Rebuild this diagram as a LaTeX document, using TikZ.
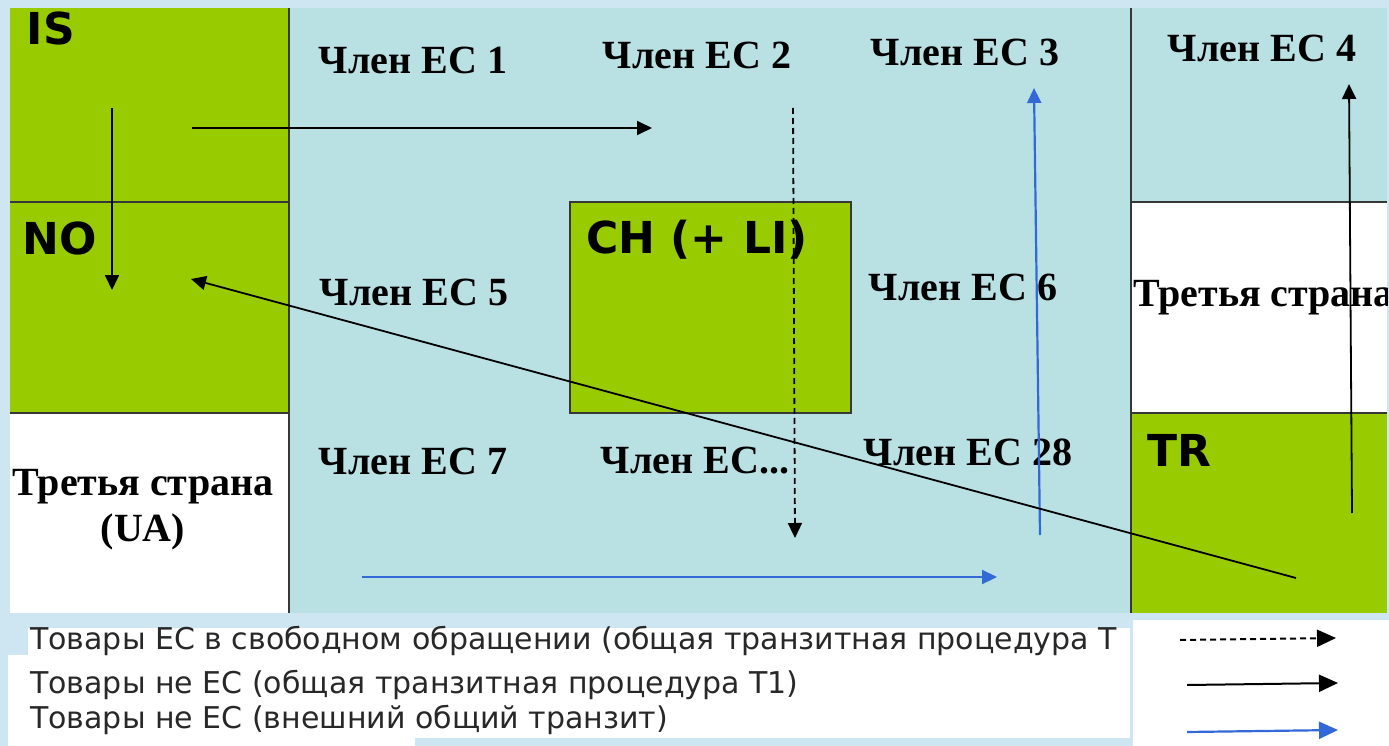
\documentclass[tikz,border=0pt]{standalone}
\usepackage{fontspec}
\setmainfont{Liberation Serif}
\newfontfamily\labelfont{DejaVu Sans}
\newfontfamily\legendfont{DejaVu Sans}
\usetikzlibrary{arrows.meta}
\definecolor{skyback}{RGB}{206,230,241}
\definecolor{euteal}{RGB}{185,224,227}
\definecolor{eftagreen}{RGB}{153,204,0}
\definecolor{extblue}{RGB}{50,105,215}
\definecolor{cellline}{RGB}{55,55,55}
\definecolor{legendtext}{RGB}{40,40,40}
\tikzset{
  member/.style={font=\fontsize{40}{46}\selectfont\bfseries, inner sep=0pt},
  country/.style={font=\labelfont\fontsize{44}{50}\selectfont\bfseries, inner sep=0pt},
  legend/.style={font=\legendfont\fontsize{30}{36}\selectfont, text=legendtext, anchor=west, inner sep=0pt},
  cell/.style={draw=cellline, line width=1.2pt},
  tip/.style={-{Triangle[length=15pt,width=14pt]}, line width=1.8pt},
  keytip/.style={-{Triangle[length=19pt,width=17pt]}, line width=2pt},
  freeflow/.style={dash pattern=on 6pt off 4pt},
  extflow/.style={extblue, line width=2.2pt}
}
\begin{document}
\begin{tikzpicture}[x=1pt,y=-1pt]
\useasboundingbox (0,0) rectangle (1389,746);
% background and cells
\fill[skyback] (0,0) rectangle (1389,746);
\fill[euteal] (289,8) rectangle (1131,613);
\fill[euteal] (1131,8) rectangle (1387,202);
\fill[white] (1131,202) rectangle (1387,413);
\fill[eftagreen] (1131,413) rectangle (1387,613);
\fill[eftagreen] (10,8) rectangle (289,413);
\fill[white] (10,413) rectangle (289,613);
\fill[eftagreen, cell] (570,202) rectangle (851,413);
\draw[cell] (289,8) -- (289,613);
\draw[cell] (1131,8) -- (1131,613);
\draw[cell] (10,202) -- (289,202);
\draw[cell] (10,413) -- (289,413);
\draw[cell] (1131,202) -- (1387,202);
\draw[cell] (1131,413) -- (1387,413);
% legend area
\fill[white] (28,628) rectangle (1130,738);
\fill[white] (8,655) rectangle (415,746);
\fill[white] (1133,620) rectangle (1389,746);

% labels
\node[country] (is) at (51,28) {IS};
\node[country] (no) at (60,238) {NO};
\node[country] (ch) at (697,240) {CH (+ LI)};
\node[country] (tr) at (1179,450) {TR};
\node[member] (m1) at (413,60) {Член ЕС 1};
\node[member] (m2) at (697,55) {Член ЕС 2};
\node[member] (m3) at (965,52) {Член ЕС 3};
\node[member] (m4) at (1262,48) {Член ЕС 4};
\node[member] (m5) at (414,292) {Член ЕС 5};
\node[member] (m6) at (963,287) {Член ЕС 6};
\node[member] (m7) at (413,461) {Член ЕС 7};
\node[member] (mx) at (695,461) {Член ЕС...};
\node[member] (m28) at (968,452) {Член ЕС 28};
\node[member, align=center] (ua) at (143,510) {Третья страна\\(UA)};
\begin{scope}
\clip (1131,202) rectangle (1387,413);
\node[member, anchor=west] (third) at (1133,298) {Третья страна};
\end{scope}

% flows
\coordinate (isdown) at (112,108);
\coordinate (noin) at (112,290);
\coordinate (iseast) at (192,128);
\coordinate (m2in) at (652,128);
\coordinate (m2out) at (793,108);
\coordinate (mxin) at (795,538);
\coordinate (m28out) at (1040,535);
\coordinate (m3in) at (1034,88);
\coordinate (m7out) at (362,577);
\coordinate (m28in) at (997,577);
\coordinate (trout) at (1296,578);
\coordinate (notip) at (191,279);
\coordinate (trup) at (1352,513);
\coordinate (m4in) at (1349,84);
\draw[tip] (isdown) -- (noin);
\draw[tip] (iseast) -- (m2in);
\draw[tip, freeflow] (m2out) -- (mxin);
\draw[tip, extflow] (m28out) -- (m3in);
\draw[tip, extflow] (m7out) -- (m28in);
\draw[tip] (trout) -- (notip);
\draw[tip] (trup) -- (m4in);

% legend
\node[legend] (lfree) at (30,641) {Товары ЕС в свободном обращении (общая транзитная процедура Т};
\node[legend] (lnon) at (30,685) {Товары не ЕС (общая транзитная процедура Т1)};
\node[legend] (lext) at (30,720) {Товары не ЕС (внешний общий транзит)};
\coordinate (kfreea) at (1180,640);
\coordinate (kfreeb) at (1336,638);
\coordinate (knona) at (1187,685);
\coordinate (knonb) at (1338,683);
\coordinate (kexta) at (1187,732);
\coordinate (kextb) at (1338,730);
\draw[keytip, freeflow] (kfreea) -- (kfreeb);
\draw[keytip] (knona) -- (knonb);
\draw[keytip, extflow] (kexta) -- (kextb);
\end{tikzpicture}
\end{document}
